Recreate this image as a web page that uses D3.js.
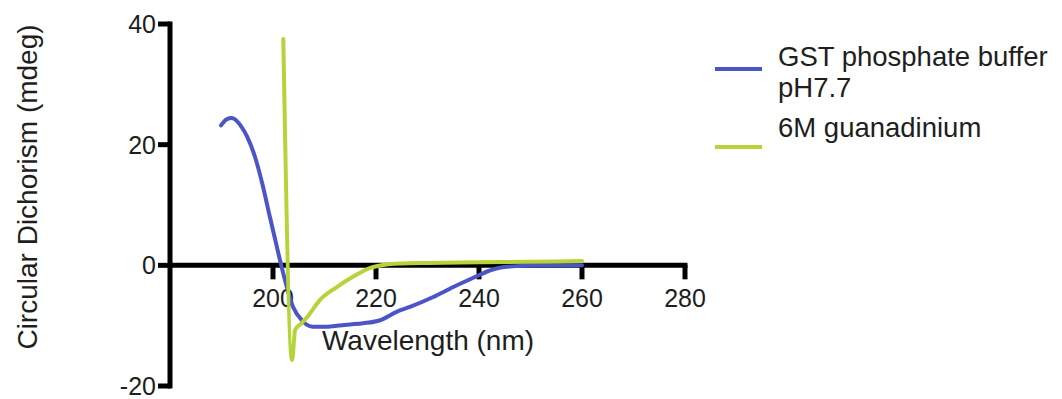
<!DOCTYPE html>
<html>
<head>
<meta charset="utf-8">
<script src="https://cdn.jsdelivr.net/npm/d3@7"></script>
<style>
  html, body { margin: 0; padding: 0; background: #fff; }
  svg { display: block; }
  text { font-family: "Liberation Sans", Arial, Helvetica, sans-serif; fill: #1e1e1e; }
</style>
</head>
<body>
<svg id="chart" width="1062" height="399"></svg>
<script>
// CD spectrum of GST in phosphate buffer (native) vs. 6M guanidinium (denatured)
const nativeWavelength = [189.9, 191, 192, 193, 194, 195, 196.5, 197.9, 199.4, 200.5, 201.6, 203.9, 205.6, 207.8, 210, 212.4, 215, 217.5, 220.8, 224, 226.6, 231, 235, 238.8, 242, 244, 248, 252, 256, 260];
const nativeSignal     = [23.2, 24.2, 24.4, 23.9, 22.8, 21.3, 18.0, 13.6, 8.0, 4.0, 0.0, -6.9, -9.1, -10.2, -10.2, -10.0, -9.8, -9.6, -9.1, -7.7, -6.9, -5.3, -3.6, -2.1, -0.9, -0.4, -0.1, 0.0, 0.0, 0.0];

const denaturedWavelength = [202.0, 203.7, 204.3, 205.4, 206.6, 209.1, 212.4, 215.5, 218.8, 221.4, 225, 230, 240, 250, 260];
const denaturedSignal     = [37.5, -15.7, -10.7, -9.7, -8.6, -5.75, -3.6, -1.9, -0.45, 0.05, 0.3, 0.4, 0.5, 0.6, 0.7];

const xTicks = [200, 220, 240, 260, 280];
const yTicks = [-20, 0, 20, 40];

const seriesNames  = ["GST phosphate buffer", "6M guanadinium"];
const seriesLines  = [["GST phosphate buffer", "pH7.7"], ["6M guanadinium"]];
const seriesColors = ["#4b55c6", "#b6d33a"];

const svg = d3.select("#chart");

const x = d3.scaleLinear().domain([180, 280]).range([170, 685]);
const y = d3.scaleLinear().domain([-20, 40]).range([386, 24]);

const axisWidth = 5;

// y axis: thick spine with outward ticks
const yAxis = svg.append("g");
yAxis.append("line")
  .attr("x1", x(180)).attr("x2", x(180))
  .attr("y1", y(40) - axisWidth / 2).attr("y2", y(-20) + axisWidth / 2)
  .attr("stroke", "#000").attr("stroke-width", axisWidth);
yAxis.selectAll("line.tick").data(yTicks).join("line")
  .attr("class", "tick")
  .attr("x1", x(180) - 12).attr("x2", x(180))
  .attr("y1", d => y(d)).attr("y2", d => y(d))
  .attr("stroke", "#000").attr("stroke-width", axisWidth);
yAxis.selectAll("text").data(yTicks).join("text")
  .attr("x", x(180) - 14)
  .attr("y", d => y(d))
  .attr("dy", "0.36em")
  .attr("text-anchor", "end")
  .attr("font-size", 25)
  .text(d => d);

// x axis along y = 0
const xAxis = svg.append("g");
xAxis.append("line")
  .attr("x1", x(180)).attr("x2", x(280) + axisWidth / 2)
  .attr("y1", y(0)).attr("y2", y(0))
  .attr("stroke", "#000").attr("stroke-width", axisWidth);
xAxis.selectAll("line.tick").data(xTicks).join("line")
  .attr("class", "tick")
  .attr("x1", d => x(d)).attr("x2", d => x(d))
  .attr("y1", y(0)).attr("y2", y(0) + 14)
  .attr("stroke", "#000").attr("stroke-width", axisWidth);
xAxis.selectAll("text").data(xTicks).join("text")
  .attr("x", d => x(d))
  .attr("y", y(0) + 42)
  .attr("text-anchor", "middle")
  .attr("font-size", 25)
  .text(d => d);

// axis titles
svg.append("text")
  .attr("x", 428).attr("y", 350)
  .attr("text-anchor", "middle")
  .attr("font-size", 28)
  .text("Wavelength (nm)");

svg.append("text")
  .attr("transform", "translate(37,187) rotate(-90)")
  .attr("text-anchor", "middle")
  .attr("font-size", 28)
  .text("Circular Dichorism (mdeg)");

// spectra
const line = d3.line()
  .x(d => x(d[0]))
  .y(d => y(d[1]))
  .curve(d3.curveMonotoneX);

const series = [
  d3.zip(nativeWavelength, nativeSignal),
  d3.zip(denaturedWavelength, denaturedSignal)
];

svg.append("g").selectAll("path").data(series).join("path")
  .attr("d", line)
  .attr("fill", "none")
  .attr("stroke", (d, i) => seriesColors[i])
  .attr("stroke-width", 4)
  .attr("stroke-linejoin", "round")
  .attr("stroke-linecap", "round");

// legend
const legendTop = [69, 147];
const legend = svg.append("g");
seriesNames.forEach((name, i) => {
  const g = legend.append("g").attr("class", "legend-item");
  g.append("line")
    .attr("x1", 715).attr("x2", 762)
    .attr("y1", legendTop[i]).attr("y2", legendTop[i])
    .attr("stroke", seriesColors[i]).attr("stroke-width", 4);
  const lines = seriesLines[i];
  const firstBaseline = i === 0 ? 66 : 137;
  lines.forEach((s, k) => {
    g.append("text")
      .attr("x", 778)
      .attr("y", firstBaseline + k * 31)
      .attr("font-size", 27.5)
      .text(s);
  });
});
</script>
</body>
</html>
